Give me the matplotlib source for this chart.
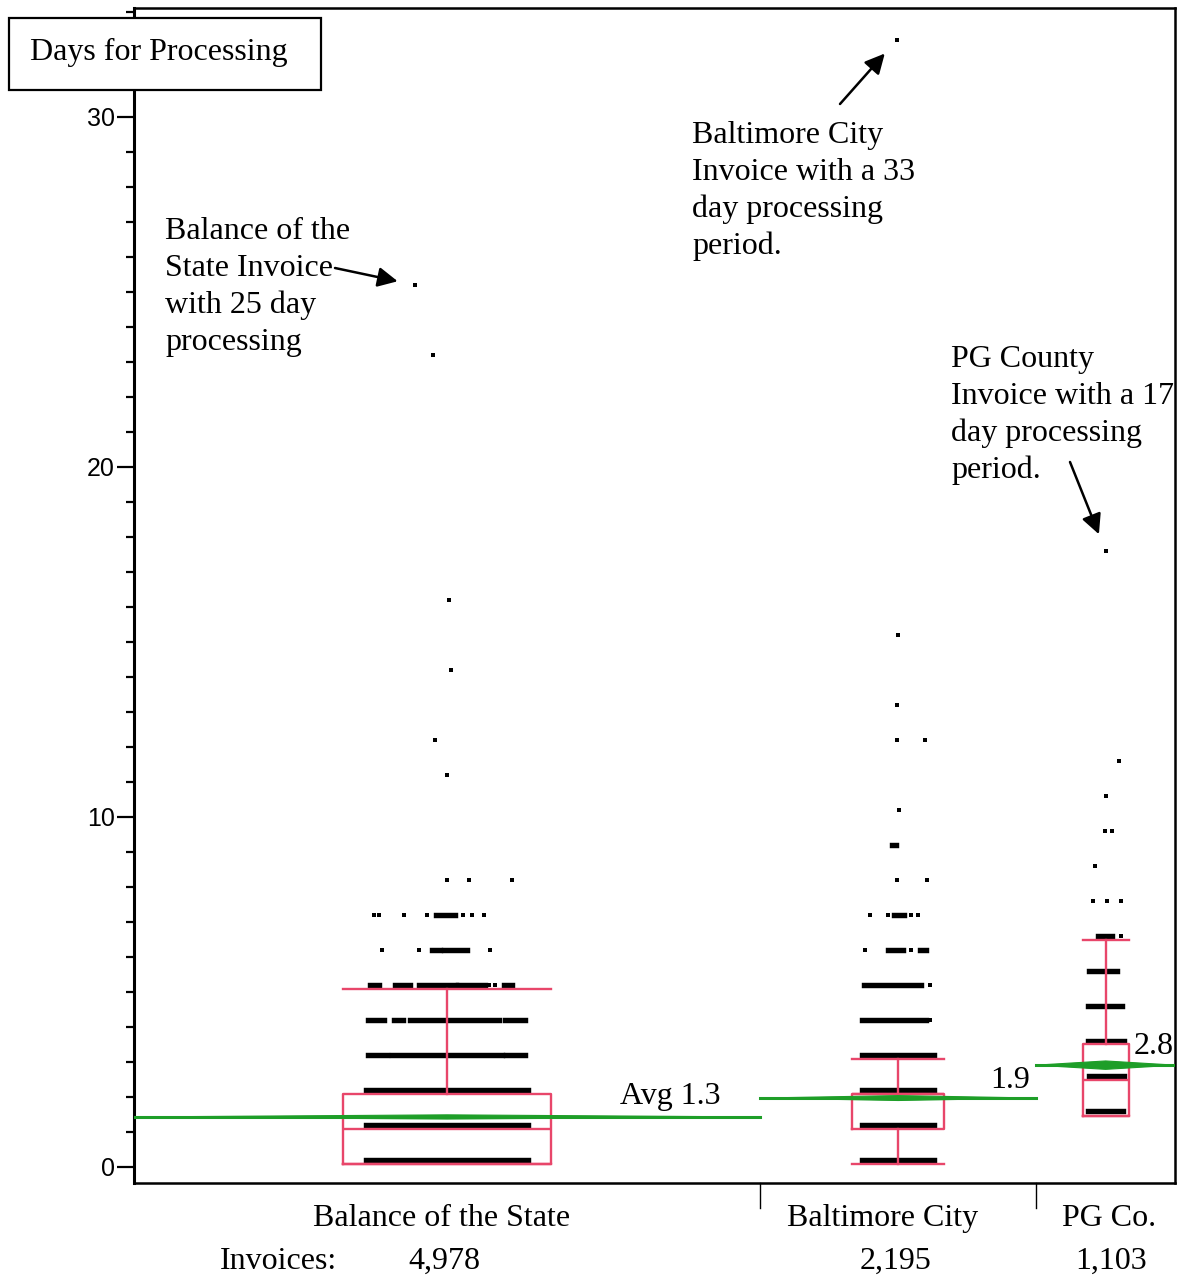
import matplotlib
import matplotlib.pyplot as plt
import numpy as np
from matplotlib.patches import Polygon, Rectangle

matplotlib.use('Agg')

# groups, sample sizes (x widths are proportional to invoices)
groups = ["Balance of the State", "Baltimore City", "PG Co."]
invoices = [4978, 2195, 1103]
invoice_labels = ["4,978", "2,195", "1,103"]

# jittered points per row: (days, runs). a run (a, b) is a packed stretch of points,
# a == b is a single point; positions are in units of the jitter half-width
balance_rows = [
    (0.2, [(-1, 1)]),
    (1.2, [(-1, 1)]),
    (2.2, [(-1, 1)]),
    (3.2, [(-0.975, -0.74), (-0.68, 0.68), (0.72, 0.96)]),
    (4.2, [(-0.975, -0.775), (-0.65, -0.54), (-0.45, 0.64), (0.71, 0.96)]),
    (5.2, [(-0.95, -0.84), (-0.64, -0.45), (-0.34, 0.11), (0.14, 0.46), (0.51, 0.51), (0.59, 0.59), (0.7, 0.8)]),
    (6.2, [(-0.8, -0.8), (-0.34, -0.34), (-0.19, -0.09), (-0.04, 0.25), (0.525, 0.525)]),
    (7.2, [(-0.9, -0.9), (-0.84, -0.84), (-0.525, -0.525), (-0.25, -0.25), (-0.14, 0.1),
           (0.19, 0.19), (0.3, 0.3), (0.45, 0.45)]),
    (8.2, [(0, 0), (0.275, 0.275), (0.8, 0.8)]),
    (11.2, [(0, 0)]),
    (12.2, [(-0.15, -0.15)]),
    (14.2, [(0.05, 0.05)]),
    (16.2, [(0.025, 0.025)]),
    (23.2, [(-0.175, -0.175)]),
    (25.2, [(-0.39, -0.39)]),
]
baltimore_rows = [
    (0.2, [(-1, 1)]),
    (1.2, [(-1, 1)]),
    (2.2, [(-1, 1)]),
    (3.2, [(-1, 1)]),
    (4.2, [(-1, 0.78), (0.89, 0.89)]),
    (5.2, [(-0.95, 0.64), (0.89, 0.89)]),
    (6.2, [(-0.92, -0.92), (-0.29, 0.12), (0.37, 0.37), (0.62, 0.78)]),
    (7.2, [(-0.78, -0.78), (-0.29, -0.29), (-0.12, 0.15), (0.37, 0.37), (0.56, 0.56)]),
    (8.2, [(-0.04, -0.04), (0.81, 0.81)]),
    (9.2, [(-0.18, -0.07)]),
    (10.2, [(0.01, 0.01)]),
    (12.2, [(-0.04, -0.04), (0.75, 0.75)]),
    (13.2, [(-0.04, -0.04)]),
    (15.2, [(-0.01, -0.01)]),
    (32.2, [(-0.04, -0.04)]),
]
pg_rows = [
    (1.6, [(-0.95, 0.95)]),
    (2.6, [(-0.9, 1)]),
    (3.6, [(-0.95, 1)]),
    (4.6, [(-1, 0.9)]),
    (5.6, [(-0.9, 0.63)]),
    (6.6, [(-0.42, 0.37), (0.84, 0.84)]),
    (7.6, [(-0.68, -0.68), (0.05, 0.05), (0.84, 0.84)]),
    (8.6, [(-0.58, -0.58)]),
    (9.6, [(-0.05, -0.05), (0.37, 0.37)]),
    (10.6, [(0, 0)]),
    (11.6, [(0.74, 0.74)]),
    (17.6, [(0, 0)]),
]
all_rows = [balance_rows, baltimore_rows, pg_rows]

# box plot quantiles
q1 = [0.1, 1.1, 1.46]
median = [1.1, 2.09, 2.49]
q3 = [2.09, 2.09, 3.51]
whisker_lo = [0.1, 0.1, 1.46]
whisker_hi = [5.1, 3.09, 6.49]

# group means and confidence half-widths (mean diamonds)
means = [1.43, 1.97, 2.91]
mean_ci = [0.06, 0.07, 0.12]
mean_labels = ["Avg 1.3", "1.9", "2.8"]

W, H = 1178, 1275
fig = plt.figure(figsize=(W / 100, H / 100), dpi=100)
ax = fig.add_axes([134 / W, 1 - 1183 / H, 1041 / W, 1175 / H])

serif = 'Liberation Serif'
sans = 'Liberation Sans'
red = '#E8466A'
green = '#1E9E28'


def fig_xy(px, py):
    return px / W, 1 - py / H


edges = np.concatenate([[0], np.cumsum(invoices)])
centers = (edges[:-1] + edges[1:]) / 2
widths = np.diff(edges)

# jittered points
for i, rows in enumerate(all_rows):
    half = widths[i] * 0.13
    for days, runs in rows:
        for a, b in runs:
            if a == b:
                ax.plot(centers[i] + a * half, days, 's', color='black', ms=3.2, mew=0, zorder=3)
            else:
                ax.plot([centers[i] + a * half, centers[i] + b * half], [days, days], '-',
                        color='black', lw=3.9, solid_capstyle='projecting', zorder=3)

# box plots
stats = []
for i in range(3):
    stats.append(dict(med=median[i], q1=q1[i], q3=q3[i], whislo=whisker_lo[i], whishi=whisker_hi[i]))
line_style = dict(color=red, lw=1.7)
ax.bxp(stats, positions=centers, widths=widths / 3, capwidths=widths / 3, showfliers=False,
       boxprops=line_style, whiskerprops=line_style, capprops=line_style, medianprops=line_style,
       manage_ticks=False, zorder=4)

# mean diamonds
for i in range(3):
    x0, x1 = edges[i], edges[i + 1]
    ax.plot([x0, x1], [means[i], means[i]], color=green, lw=2.2, zorder=5)
    ax.add_patch(Polygon([(x0, means[i]), (centers[i], means[i] + mean_ci[i]),
                          (x1, means[i]), (centers[i], means[i] - mean_ci[i])],
                         closed=True, facecolor=green, edgecolor=green, lw=0.8, zorder=5))

ax.set_xlim(0, edges[-1])
ax.set_ylim((1167 - 1183) / 35, (1167 - 8) / 35)
ax.set_xticks([])
ax.set_yticks([0, 10, 20, 30])
ax.set_yticks(np.arange(0, 34), minor=True)
ax.tick_params(axis='y', which='major', length=12, width=1.6, labelsize=18, pad=2)
ax.tick_params(axis='y', which='minor', length=6, width=1.6)
for lab in ax.get_yticklabels():
    lab.set_fontfamily(sans)
ax.spines['left'].set_linewidth(2.2)
for s in ['top', 'right', 'bottom']:
    ax.spines[s].set_linewidth(1.8)

# group dividers below the axis
y0 = ax.get_ylim()[0]
for e in edges[1:-1]:
    ax.plot([e, e], [y0, y0 - 25 / 35], color='black', lw=1, clip_on=False)

# mean labels
mean_label_px = [(620, 1104), (990, 1088), (1134, 1054)]
for lab, (px, py) in zip(mean_labels, mean_label_px):
    fig.text(*fig_xy(px, py), lab, family=serif, fontsize=23, va='baseline', ha='left')

# group names and invoice counts
name_px = [442, 883, 1109]
count_px = [444, 896, 1111]
for i in range(3):
    fig.text(*fig_xy(name_px[i], 1226), groups[i], family=serif, fontsize=23, va='baseline', ha='center')
    fig.text(*fig_xy(count_px[i], 1269), invoice_labels[i], family=serif, fontsize=23,
             va='baseline', ha='center')
fig.text(*fig_xy(220, 1269), "Invoices:", family=serif, fontsize=23, va='baseline', ha='left')

# title box
fig.patches.append(Rectangle(fig_xy(9, 90), 312 / W, 72 / H, transform=fig.transFigure,
                             facecolor='white', edgecolor='black', lw=1.6, zorder=5))
fig.text(*fig_xy(30, 60), "Days for Processing", family=serif, fontsize=23, va='baseline',
         ha='left', zorder=6)

# callouts
notes = [
    (["Balance of the", "State Invoice", "with 25 day", "processing"], (165, 239), (335, 268), 0, 25.2, -0.39),
    (["Baltimore City", "Invoice with a 33", "day processing", "period."], (692, 143), (840, 104), 1, 32.2, -0.04),
    (["PG County", "Invoice with a 17", "day processing", "period."], (951, 367), (1070, 462), 2, 17.6, 0.0),
]
for lines, (tx, ty), tail, gi, days, jit in notes:
    for k, line in enumerate(lines):
        fig.text(*fig_xy(tx, ty + 37 * k), line, family=serif, fontsize=23, va='baseline', ha='left')
    px = centers[gi] + jit * widths[gi] * 0.13
    ax.annotate('', xy=(px, days), xytext=fig_xy(*tail), textcoords='figure fraction',
                arrowprops=dict(arrowstyle='-|>', color='black', lw=1.8, mutation_scale=30,
                                shrinkA=0, shrinkB=13))

fig.savefig('out.png', dpi=100)
